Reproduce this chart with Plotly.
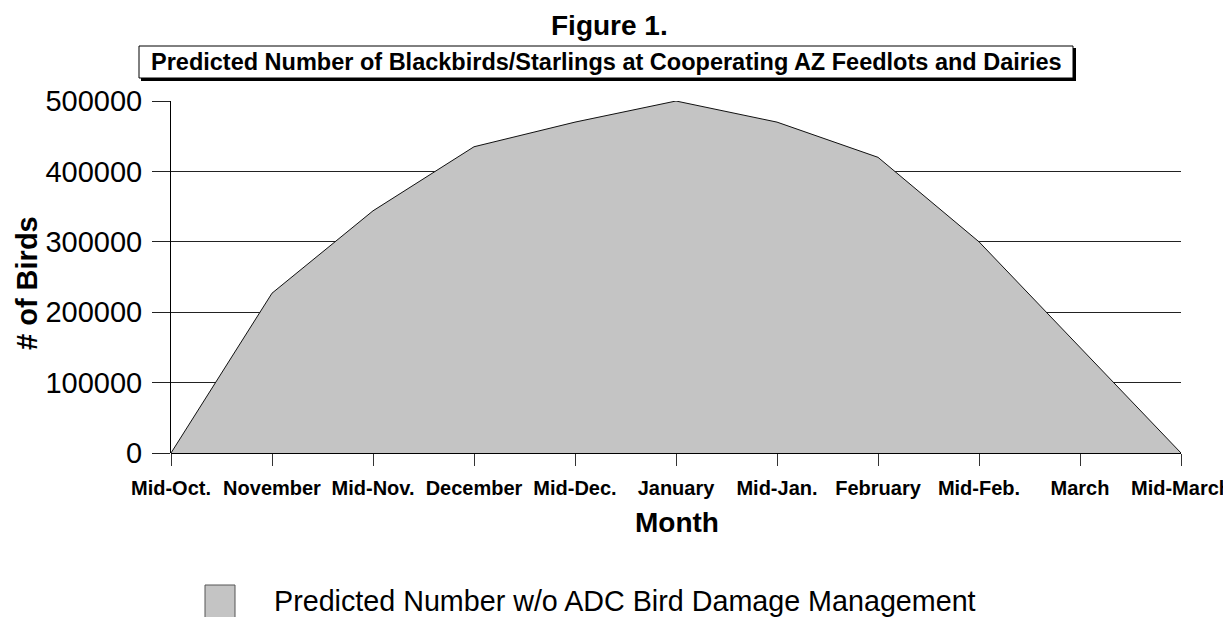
import plotly.graph_objects as go

months = ["Mid-Oct.", "November", "Mid-Nov.", "December", "Mid-Dec.", "January",
          "Mid-Jan.", "February", "Mid-Feb.", "March", "Mid-March"]
birds = [0, 227000, 344000, 435000, 470000, 500000, 470000, 420000, 300000, 150000, 0]
y_ticks = [0, 100000, 200000, 300000, 400000, 500000]

title_text = "Figure 1."
subtitle_text = "Predicted Number of Blackbirds/Starlings at Cooperating AZ Feedlots and Dairies"
series_name = "Predicted Number w/o ADC Bird Damage Management"
x_title = "Month"
y_title = "# of Birds"

FONT = "Liberation Sans, Arial, sans-serif"

# plot area in page pixels (page has 8px body margin)
PL, PR, PT, PB = 171, 1181, 101, 453
PW, PH = PR - PL, PB - PT


def px(x):
    return (x - PL) / PW


def py(y):
    return (PB - y) / PH


x_idx = list(range(len(months)))

fig = go.Figure()
fig.add_trace(go.Scatter(
    x=x_idx, y=birds, mode="lines", fill="tozeroy",
    fillcolor="#c4c4c4", line=dict(color="#111111", width=1),
    name=series_name, showlegend=False, hoverinfo="x+y"))

fig.update_layout(
    width=1223, height=609,
    margin=dict(l=PL - 8, r=1223 - (PR - 8), t=PT - 8, b=609 - (PB - 8), autoexpand=False),
    paper_bgcolor="white", plot_bgcolor="white",
    font=dict(family=FONT, color="black"),
    xaxis=dict(
        range=[0, len(months) - 1], tickmode="array", tickvals=x_idx,
        ticktext=["<b>" + m + "</b>" for m in months],
        showgrid=False, zeroline=False, showline=False, automargin=False,
        ticks="outside", ticklen=12, tickcolor="#333", tickwidth=1,
        tickfont=dict(size=20, family=FONT), tickangle=0, ticklabelstandoff=5,
    ),
    yaxis=dict(
        range=[0, 500000], tickmode="array", tickvals=y_ticks,
        ticktext=[str(v) for v in y_ticks], automargin=False,
        showgrid=True, gridcolor="#222222", gridwidth=1,
        zeroline=True, zerolinecolor="black", zerolinewidth=1,
        showline=True, linecolor="black", linewidth=1,
        ticks="outside", ticklen=18, tickcolor="#222", tickwidth=1,
        tickfont=dict(size=29, family=FONT), ticklabelstandoff=4,
    ),
)

# Axis titles
fig.add_annotation(text="<b>" + x_title + "</b>", xref="paper", yref="paper",
                   x=px(677), y=py(522), xanchor="center", yanchor="middle",
                   showarrow=False, font=dict(size=28, family=FONT))
fig.add_annotation(text="<b>" + y_title + "</b>", xref="paper", yref="paper",
                   x=px(27), y=py(283), xanchor="center", yanchor="middle",
                   textangle=-90, showarrow=False, font=dict(size=29, family=FONT))

# Figure title
fig.add_annotation(text="<b>" + title_text + "</b>", xref="paper", yref="paper",
                   x=px(609), y=py(26), xanchor="center", yanchor="middle",
                   showarrow=False, borderpad=0, font=dict(size=28, family=FONT))

# Subtitle box with shadow
fig.add_shape(type="rect", xref="paper", yref="paper",
              x0=px(141), x1=px(1076), y0=py(81), y1=py(48),
              fillcolor="black", line=dict(width=0), layer="above")
fig.add_shape(type="rect", xref="paper", yref="paper",
              x0=px(139), x1=px(1073), y0=py(78), y1=py(46),
              fillcolor="white", line=dict(color="black", width=1), layer="above")
fig.add_annotation(text="<b>" + subtitle_text + "</b>", xref="paper", yref="paper",
                   x=px(606), y=py(62), xanchor="center", yanchor="middle",
                   showarrow=False, font=dict(size=23.5, family=FONT))

# Legend (manual)
fig.add_shape(type="rect", xref="paper", yref="paper",
              x0=px(205), x1=px(235), y0=py(620), y1=py(585),
              fillcolor="#c4c4c4", line=dict(color="#555", width=1))
fig.add_annotation(text=series_name, xref="paper", yref="paper",
                   x=px(272), y=py(601), xanchor="left", yanchor="middle",
                   showarrow=False, font=dict(size=28.7, family=FONT))

fig.write_html("out.html")
